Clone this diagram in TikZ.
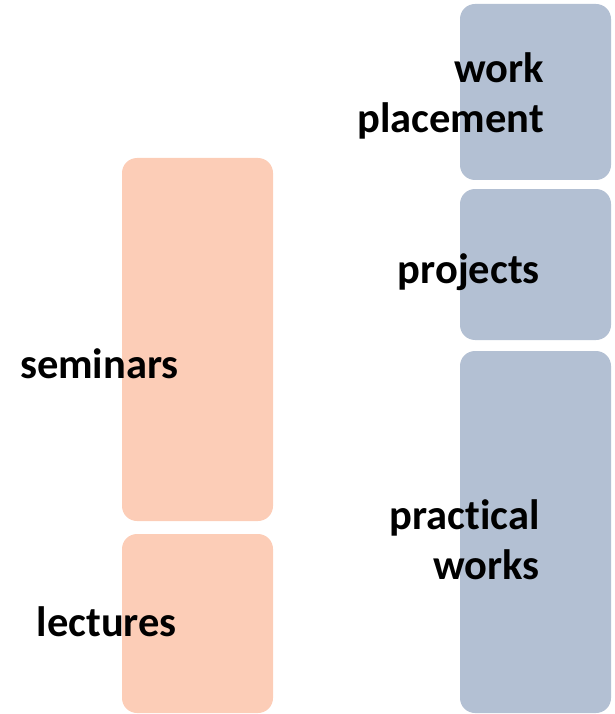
\documentclass[tikz,border=0pt]{standalone}
\usepackage{fontspec}
\setmainfont[Ligatures=NoCommon]{Carlito}
\definecolor{peach}{HTML}{FCCDB7}
\definecolor{steel}{HTML}{B3C0D3}
\begin{document}
\begin{tikzpicture}[x=1pt,y=-1pt,
  box/.style={rounded corners=15pt},
  lbl/.style={inner sep=0pt,font=\fontsize{42.5}{50}\selectfont\bfseries,align=right,anchor=base east}]
\useasboundingbox (0,0) rectangle (614,714);
\fill[peach,box] (122,158) rectangle (273,521);
\fill[peach,box] (122,534) rectangle (273,713);
\fill[steel,box] (460,4) rectangle (611,180);
\fill[steel,box] (460,189) rectangle (611,340);
\fill[steel,box] (460,351) rectangle (611,713);
\node[lbl] (sem) at (179,378) {seminars};
\node[lbl] (lec) at (177,636) {lectures};
\node[lbl] (wp) at (544,133) {work\\placement};
\node[lbl] (proj) at (540,283) {projects};
\node[lbl] (pw) at (540,579) {practical\\works};
\end{tikzpicture}
\end{document}
